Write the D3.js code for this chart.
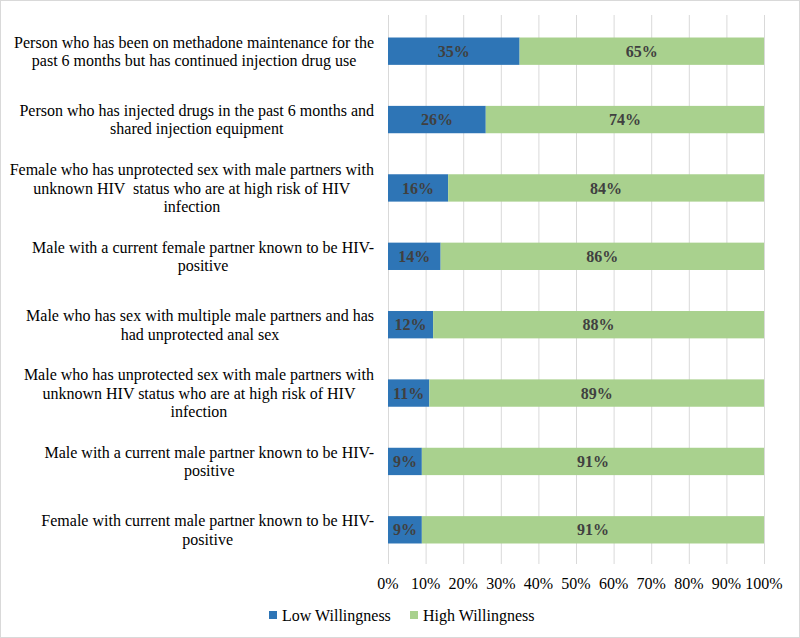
<!DOCTYPE html>
<html><head><meta charset="utf-8">
<script src="https://cdn.jsdelivr.net/npm/d3@7"></script>
<style>body{margin:0;background:#fff}svg{display:block}text{font-family:"Liberation Serif",serif}</style>
</head><body>
<svg id="c" width="800" height="638"></svg>
<script>
const categories = [
  "Person who has been on methadone maintenance for the\npast 6 months but has continued injection drug use",
  "Person who has injected drugs in the past 6 months and\nshared injection equipment",
  "Female who has unprotected sex with male partners with\nunknown HIV  status who are at high risk of HIV\ninfection",
  "Male with a current female partner known to be HIV-\npositive",
  "Male who has sex with multiple male partners and has\nhad unprotected anal sex",
  "Male who has unprotected sex with male partners with\nunknown HIV status who are at high risk of HIV\ninfection",
  "Male with a current male partner known to be HIV-\npositive",
  "Female with current male partner known to be HIV-\npositive"
];
const lowWillingness = [35, 26, 16, 14, 12, 11, 9, 9];
const highWillingness = [65, 74, 84, 86, 88, 89, 91, 91];
const seriesNames = ["Low Willingness", "High Willingness"];
const colors = ["#2E75B6", "#A9D18E"];
const ticks = [0,10,20,30,40,50,60,70,80,90,100];

const svg = d3.select("#c");
svg.append("rect").attr("x",0.5).attr("y",0.5).attr("width",799).attr("height",637)
  .attr("fill","#fff").attr("stroke","#D9D9D9");

const x = d3.scaleLinear().domain([0,100]).range([388,764]);
const y = d3.scaleBand().domain(d3.range(categories.length)).range([17,564]).paddingInner(0.6).paddingOuter(0.3);

svg.append("g").selectAll("line").data(ticks).join("line")
  .attr("x1",d=>x(d)+0.5).attr("x2",d=>x(d)+0.5).attr("y1",15).attr("y2",564)
  .attr("stroke","#D9D9D9").attr("stroke-width",1);

const data = categories.map((c,i)=>({i, low: lowWillingness[i], high: highWillingness[i]}));
const stack = d3.stack().keys(["low","high"])(data);

stack.forEach((s,si)=>{
  const g = svg.append("g");
  g.selectAll("rect").data(s).join("rect")
    .attr("x",d=>x(d[0])).attr("width",d=>x(d[1])-x(d[0]))
    .attr("y",d=>y(d.data.i)).attr("height",y.bandwidth())
    .attr("fill",colors[si]);
  g.selectAll("text").data(s).join("text")
    .attr("x",d=>(x(d[0])+x(d[1]))/2).attr("y",d=>y(d.data.i)+y.bandwidth()/2)
    .attr("dy","0.35em").attr("text-anchor","middle")
    .attr("font-size",16).attr("font-weight","bold")
    .attr("fill","#404040").text(d=>(d[1]-d[0])+"%");
});

categories.forEach((c,i)=>{
  const lines = c.split("\n");
  const cy = y(i)+y.bandwidth()/2;
  const lh = 18.5;
  const g = svg.append("g");
  const ts = lines.map((l,k)=>g.append("text")
    .attr("y", cy + (k-(lines.length-1)/2)*lh).attr("dy","0.35em")
    .attr("text-anchor","middle").attr("font-size",16)
    .attr("fill","#000").attr("xml:space","preserve").style("white-space","pre").text(l));
  const maxW = d3.max(ts, t=>t.node().getComputedTextLength());
  ts.forEach(t=>t.attr("x", 374 - maxW/2));
});

svg.append("g").selectAll("text").data(ticks).join("text")
  .attr("x",d=>x(d)).attr("y",583).attr("dy","0.35em").attr("text-anchor","middle")
  .attr("font-size",16).attr("fill","#000").text(d=>d+"%");

const leg = [{x:269,t:seriesNames[0],c:colors[0]},{x:410,t:seriesNames[1],c:colors[1]}];
leg.forEach(l=>{
  svg.append("rect").attr("x",l.x).attr("y",611).attr("width",8).attr("height",8).attr("fill",l.c);
  svg.append("text").attr("x",l.x+13).attr("y",615).attr("dy","0.35em")
    .attr("font-size",16).attr("fill","#000").text(l.t);
});
</script>
</body></html>
